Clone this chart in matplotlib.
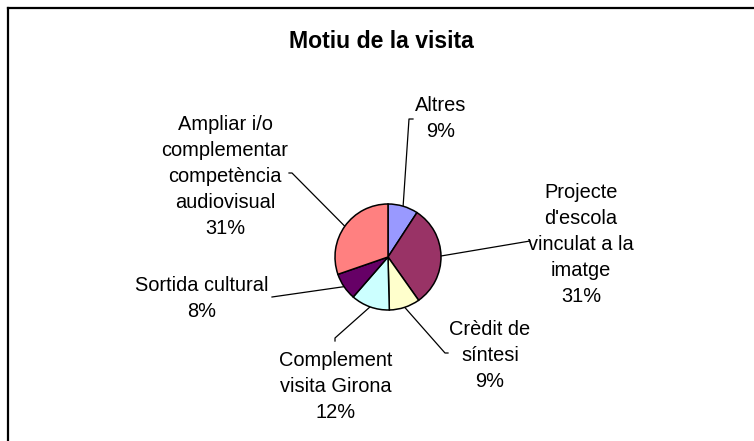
import numpy as np
import matplotlib
matplotlib.use("Agg")
import matplotlib.pyplot as plt

plt.rcParams['font.family'] = ['Liberation Sans', 'DejaVu Sans']

title = "Motiu de la visita"
categories = ["Altres", "Projecte\nd'escola\nvinculat a la\nimatge",
              "Crèdit de\nsíntesi", "Complement\nvisita Girona",
              "Sortida cultural", "Ampliar i/o\ncomplementar\ncompetència\naudiovisual"]
values = [9.2, 31.0, 9.4, 11.8, 8.3, 30.3]
pct_labels = ["9%", "31%", "9%", "12%", "8%", "31%"]
colors = ["#9999FF", "#993366", "#FFFFCC", "#CCFFFF", "#660066", "#FF8080"]

W, H = 754, 441
fig = plt.figure(figsize=(W / 100, H / 100), dpi=100)
ax = fig.add_axes([0, 0, 1, 1])

def Y(y):
    return H - y

cx, cy, r = 388, Y(257), 53
wedges, _ = ax.pie(values, colors=colors, startangle=90, counterclock=False,
                   center=(cx, cy), radius=r, frame=True,
                   wedgeprops=dict(edgecolor='black', linewidth=1.1))
ax.set_xlim(0, W)
ax.set_ylim(0, H)
ax.set_aspect('equal')
ax.axis('off')

# label layout: (center x, first baseline y in px)
label_pos = [(441, 111), (581, 198), (490, 335), (336, 366), (202, 291), (225, 130)]
leader_end = [[(409, 119), (413, 119)],
              [(530, 241)],
              [(445, 353), (448, 353)],
              [(335, 338), (335, 341)],
              [(272, 297)],
              [(292, 173), (289, 173)]]

line_h = 26
for w, cat, pct, (lx, ly), ends in zip(wedges, categories, pct_labels, label_pos, leader_end):
    lines = cat.split("\n") + [pct]
    for i, t in enumerate(lines):
        ax.text(lx, Y(ly + i * line_h), t, ha='center', va='baseline',
                fontsize=14.4, color='black')
    mid = np.deg2rad((w.theta1 + w.theta2) / 2)
    sx, sy = cx + r * np.cos(mid), cy + r * np.sin(mid)
    xs = [sx] + [e[0] for e in ends]
    ys = [sy] + [Y(e[1]) for e in ends]
    ax.plot(xs, ys, color='black', linewidth=0.9, zorder=0.5)

ax.text(381, Y(48), title, ha='center', va='baseline', fontsize=16.6,
        fontweight='bold', color='black')

# chart frame (left and top edges visible)
ax.plot([7.5, 7.5], [Y(7.5), 0], color='black', linewidth=1.6, clip_on=False)
ax.plot([7.5, W], [Y(7.5), Y(7.5)], color='black', linewidth=1.6, clip_on=False)

fig.savefig("out.png", dpi=100)
